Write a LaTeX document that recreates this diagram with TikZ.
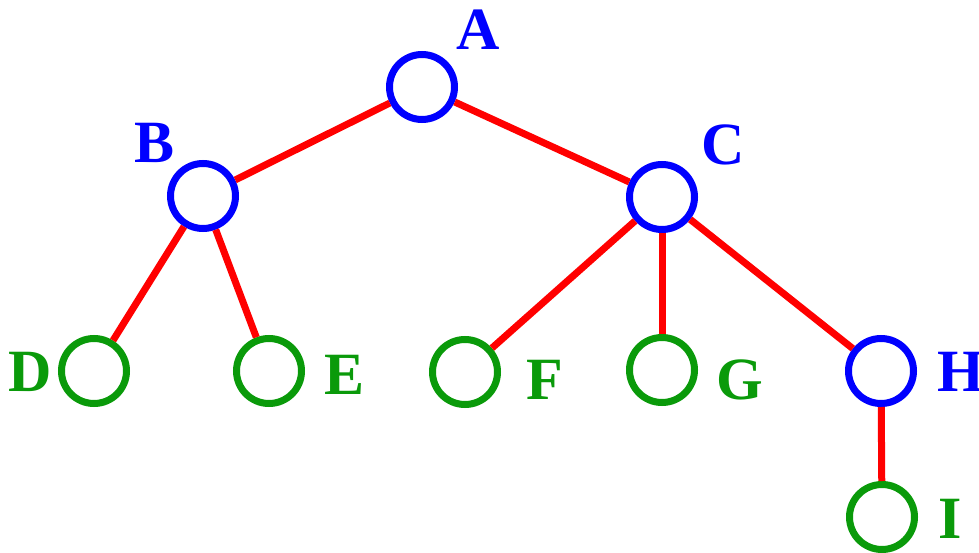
\documentclass[tikz,border=0pt]{standalone}
\usepackage{fontspec}
\setmainfont{Liberation Serif}
\definecolor{treeblue}{RGB}{0,0,255}
\definecolor{treegreen}{RGB}{10,154,10}
\definecolor{treered}{RGB}{255,0,0}
\tikzset{
    inner/.style={circle, draw=treeblue, line width=7pt, minimum size=65pt, inner sep=0pt},
    leaf/.style={circle, draw=treegreen, line width=7pt, minimum size=65pt, inner sep=0pt},
    lbl/.style={font=\fontsize{60}{60}\selectfont\bfseries, inner sep=0pt},
    edge/.style={treered, line width=7pt}
}
\begin{document}
\begin{tikzpicture}[x=1pt, y=-1pt]
    \useasboundingbox (0,0) rectangle (979,553);

    % tree nodes
    \node[inner] (A) at (422,87) {};
    \node[inner] (B) at (203,196) {};
    \node[inner] (C) at (662,197) {};
    \node[leaf] (D) at (94,371) {};
    \node[leaf] (E) at (269,371) {};
    \node[leaf] (F) at (465,372) {};
    \node[leaf] (G) at (662,370) {};
    \node[inner] (H) at (881,371) {};
    \node[leaf] (I) at (882,517) {};

    % labels
    \node[lbl, text=treeblue] (lA) at (478,30) {A};
    \node[lbl, text=treeblue] (lB) at (155,143) {B};
    \node[lbl, text=treeblue] (lC) at (723,145) {C};
    \node[lbl, text=treegreen] (lD) at (30,372) {D};
    \node[lbl, text=treegreen] (lE) at (345,375) {E};
    \node[lbl, text=treegreen] (lF) at (545,380) {F};
    \node[lbl, text=treegreen] (lG) at (740,380) {G};
    \node[lbl, text=treeblue] (lH) at (961,372) {H};
    \node[lbl, text=treegreen] (lI) at (950,519) {I};

    % edges
    \draw[edge] (A) -- (B);
    \draw[edge] (A) -- (C);
    \draw[edge] (B) -- (D);
    \draw[edge] (B) -- (E);
    \draw[edge] (C) -- (F);
    \draw[edge] (C) -- (G);
    \draw[edge] (C) -- (H);
    \draw[edge] (H) -- (I);
\end{tikzpicture}
\end{document}
